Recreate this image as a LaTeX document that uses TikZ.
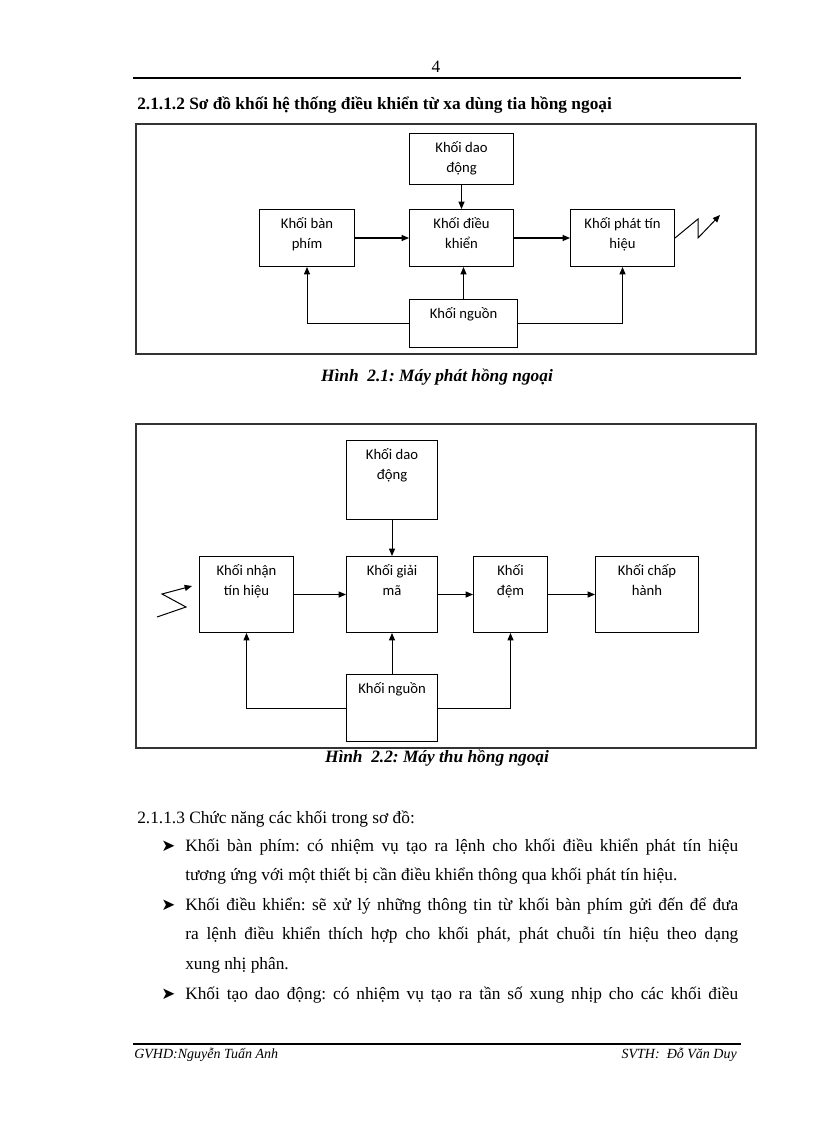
\documentclass[tikz,border=0pt]{standalone}
\usepackage{fontspec}
\setmainfont{Liberation Serif}
\newfontfamily\carlito{Carlito}
\newfontfamily\kyhieu{DejaVu Sans}
\usetikzlibrary{arrows.meta}
\newlength{\donvi}
\setlength{\donvi}{0.75pt}
\newcommand{\hop}[3]{\parbox[c][#2\donvi][t]{#1\donvi}{\centering\rule{0pt}{14pt}#3}}
\frenchspacing

\begin{document}
\begin{tikzpicture}[x=0.75pt, y=-0.75pt,
  khoi/.style={draw, line width=0.75pt, inner sep=0pt, anchor=north west, font=\carlito\fontsize{11}{15.5}\selectfont},
  muiten/.style={line width=0.75pt, -{Triangle[length=5.5pt,width=4.5pt]}},
  khung/.style={draw=black!80, line width=1pt},
  doan/.style={anchor=base west, inner sep=0pt, text width=414.75pt, align=justify, font=\fontsize{13}{22.2}\selectfont},
  dau/.style={anchor=base west, inner sep=0pt, font=\kyhieu\fontsize{12.5}{14}\selectfont},
  chu/.style={inner sep=0pt, font=\fontsize{13}{16}\selectfont},
  chantrang/.style={inner sep=0pt, font=\itshape\fontsize{10.5}{12}\selectfont}]
\useasboundingbox (0,0) rectangle (816,1123);
\fill[white] (0,0) rectangle (816,1123);

\node[chu, anchor=base] (so) at (436,73) {4};
\draw[line width=1.5pt] (133,78) -- (741,78);
\node[chu, anchor=base west, font=\bfseries\fontsize{13}{16}\selectfont] (tieude) at (137,110)
  {2.1.1.2 Sơ đồ khối hệ thống điều khiển từ xa dùng tia hồng ngoại};

\draw[khung] (136,124) rectangle (756,354);
\node[khoi] (dd1) at (409,133) {\hop{104}{51}{Khối dao\\động}};
\node[khoi] (dk) at (409,209) {\hop{104}{57}{Khối điều\\khiển}};
\node[khoi] (bp) at (259,209) {\hop{95}{57}{Khối bàn\\phím}};
\node[khoi] (pt) at (570,209) {\hop{104}{57}{Khối phát tín\\hiệu}};
\node[khoi] (ng1) at (409,299) {\hop{108}{48}{Khối nguồn}};
\draw[muiten] (bp.east) -- (dk.west);
\draw[muiten] (dk.east) -- (pt.west);
\draw[muiten] (dd1.south) -- (dk.north);
\draw[muiten] (ng1.north) -- (ng1.north |- dk.south);
\draw[muiten] (ng1.west) -| (bp.south);
\draw[muiten] (ng1.east) -| (pt.south);
\draw[muiten] (pt.east) -- ++(23,-19) -- ++(0,19) -- ++(22,-23);
\node[chu, anchor=base, font=\bfseries\itshape\fontsize{13}{16}\selectfont] (hinh1) at (437,381)
  {Hình~ 2.1: Máy phát hồng ngoại};

\draw[khung] (136,424) rectangle (756,748);
\node[khoi] (dd2) at (346,440) {\hop{91}{79}{Khối dao\\động}};
\node[khoi] (gm) at (346,556) {\hop{91}{76}{Khối giải\\mã}};
\node[khoi] (nh) at (199,556) {\hop{94}{76}{Khối nhận\\tín hiệu}};
\node[khoi] (dm) at (473,556) {\hop{74}{76}{Khối\\đệm}};
\node[khoi] (ch) at (595,556) {\hop{103}{76}{Khối chấp\\hành}};
\node[khoi] (ng2) at (346,674) {\hop{91}{67}{Khối nguồn}};
\draw[muiten] (nh.east) -- (gm.west);
\draw[muiten] (gm.east) -- (dm.west);
\draw[muiten] (dm.east) -- (ch.west);
\draw[muiten] (dd2.south) -- (gm.north);
\draw[muiten] (ng2.north) -- (gm.south);
\draw[muiten] (ng2.west) -| (nh.south);
\draw[muiten] (ng2.east) -| (dm.south);
\coordinate (tin) at (157,617);
\draw[muiten] (tin) -- ++(29,-10) -- ++(-24,-13) -- ++(30,-8);
\node[chu, anchor=base, font=\bfseries\itshape\fontsize{13}{16}\selectfont] (hinh2) at (437,762)
  {Hình~ 2.2: Máy thu hồng ngoại};

\node[chu, anchor=base west] (muc) at (137,823) {2.1.1.3 Chức năng các khối trong sơ đồ:};
\node[dau] (d1) at (161,851) {➤};
\node[doan] (y1) at (185,851) {Khối bàn phím: có nhiệm vụ tạo ra lệnh cho khối điều khiển phát tín hiệu\linebreak
  tương ứng với một thiết bị cần điều khiển thông qua khối phát tín hiệu.};
\node[dau] (d2) at (161,910) {➤};
\node[doan] (y2) at (185,910) {Khối điều khiển: sẽ xử lý những thông tin từ khối bàn phím gửi đến để đưa\linebreak
  ra lệnh điều khiển thích hợp cho khối phát, phát chuỗi tín hiệu theo dạng\linebreak
  xung nhị phân.};
\node[dau] (d3) at (161,999) {➤};
\node[doan] (y3) at (185,999) {\makebox[\linewidth][s]{Khối tạo dao động: có nhiệm vụ tạo ra tần số xung nhịp cho các khối điều}};

\draw[line width=1.2pt] (133,1044) -- (741,1044);
\node[chantrang, anchor=base west] (gvhd) at (134,1058) {GVHD:Nguyễn Tuấn Anh};
\node[chantrang, anchor=base east] (svth) at (737,1058) {SVTH:~ Đỗ Văn Duy};
\end{tikzpicture}
\end{document}
